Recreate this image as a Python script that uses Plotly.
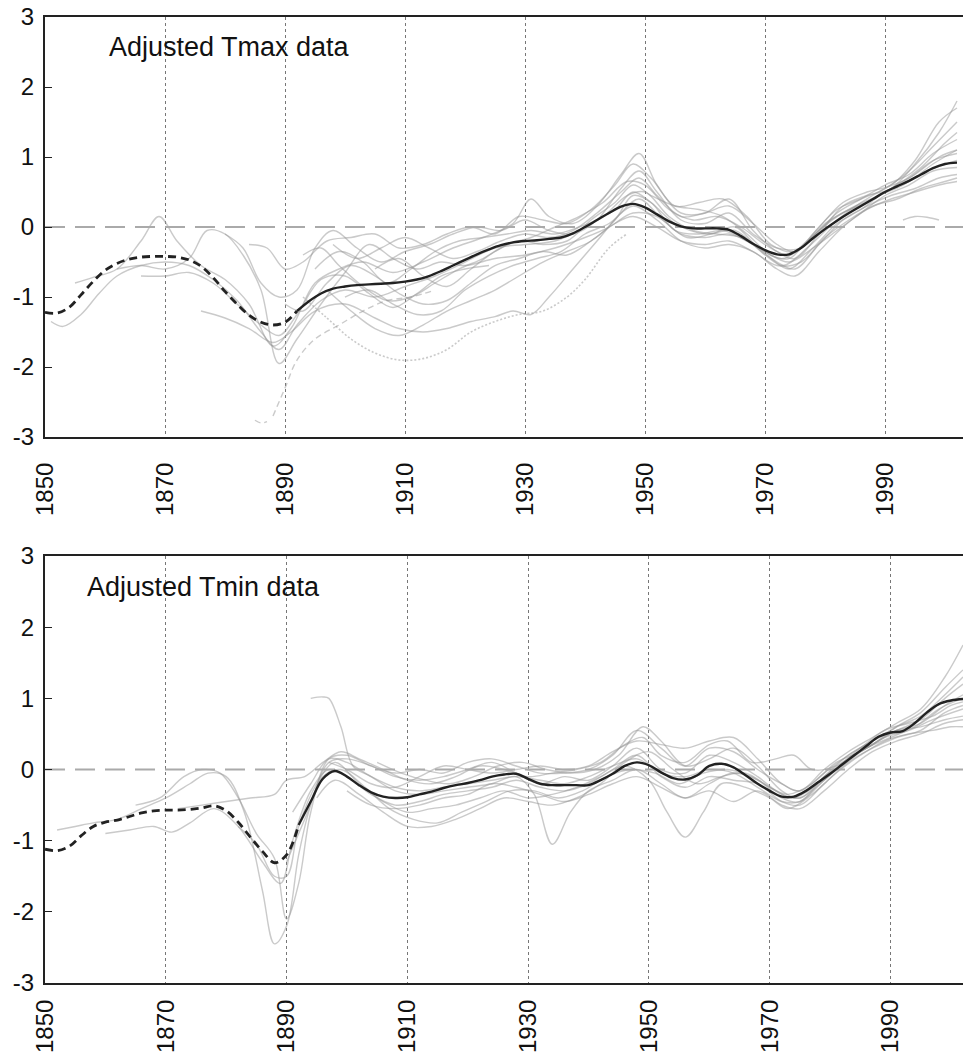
import plotly.graph_objects as go

FONT = "Liberation Sans, Arial, sans-serif"

# Regional mean series (2-year steps), dashed before the split year
YEARS = list(range(1850, 2003, 2))
TMAX_MEAN = [-1.22, -1.23, -1.15, -0.97, -0.78, -0.62, -0.52, -0.46, -0.43, -0.42,
             -0.42, -0.43, -0.47, -0.56, -0.72, -0.92, -1.10, -1.26, -1.36, -1.40,
             -1.36, -1.20, -1.06, -0.95, -0.88, -0.85, -0.83, -0.82, -0.81, -0.80,
             -0.78, -0.75, -0.70, -0.63, -0.55, -0.47, -0.39, -0.32, -0.26, -0.22,
             -0.20, -0.19, -0.17, -0.15, -0.09, 0.00, 0.10, 0.20, 0.29, 0.33,
             0.28, 0.18, 0.08, 0.01, -0.02, -0.02, -0.02, -0.04, -0.13, -0.24,
             -0.33, -0.39, -0.39, -0.30, -0.16, -0.03, 0.09, 0.20, 0.30, 0.40,
             0.50, 0.58, 0.66, 0.75, 0.84, 0.90, 0.92]
TMIN_MEAN = [-1.12, -1.14, -1.08, -0.93, -0.80, -0.74, -0.71, -0.66, -0.61, -0.58,
             -0.57, -0.57, -0.56, -0.54, -0.51, -0.58, -0.74, -0.95, -1.15, -1.31,
             -1.20, -0.78, -0.45, -0.13, -0.02, -0.10, -0.22, -0.32, -0.38, -0.40,
             -0.39, -0.35, -0.31, -0.26, -0.22, -0.19, -0.15, -0.10, -0.07, -0.06,
             -0.13, -0.20, -0.22, -0.22, -0.22, -0.22, -0.15, -0.06, 0.05, 0.10,
             0.06, -0.04, -0.12, -0.14, -0.08, 0.05, 0.08, 0.03, -0.08, -0.20,
             -0.30, -0.38, -0.38, -0.30, -0.18, -0.06, 0.07, 0.20, 0.33, 0.46,
             0.52, 0.54, 0.65, 0.80, 0.92, 0.97, 0.99]
TMAX_SPLIT = 1892
TMIN_SPLIT = 1892

# Individual station series (year knots, anomaly values)
TMAX_STATIONS = [
    ([1851, 1853, 1856, 1859, 1862, 1866, 1870, 1874, 1878, 1882, 1886, 1889, 1892, 1896, 1900, 1905,
      1910, 1915, 1920, 1925, 1930, 1935, 1940, 1945, 1948, 1951, 1955, 1960, 1965, 1970, 1973, 1977,
      1982, 1986, 1990, 1994, 1998, 2002],
     [-1.35, -1.42, -1.25, -0.95, -0.70, -0.55, -0.50, -0.55, -0.75, -1.05, -1.50, -1.75, -1.40, -1.05,
      -0.90, -1.00, -0.85, -0.70, -0.50, -0.30, -0.25, -0.20, 0.00, 0.25, 0.50, 0.35, 0.05, -0.10,
      -0.05, -0.40, -0.55, -0.30, 0.10, 0.35, 0.55, 0.70, 0.95, 1.05]),
    ([1855, 1858, 1862, 1866, 1869, 1872, 1876, 1880, 1884, 1888, 1891, 1895, 1899, 1903, 1908, 1913,
      1918, 1923, 1928, 1931, 1934, 1938, 1942, 1946, 1949, 1952, 1956, 1960, 1964, 1968, 1972, 1975,
      1979, 1983, 1987, 1991, 1995, 1999, 2002],
     [-0.80, -0.72, -0.60, -0.20, 0.15, -0.20, -0.55, -0.75, -1.10, -1.70, -1.45, -0.80, -0.60, -0.50,
      -0.65, -0.50, -0.30, -0.15, 0.05, 0.40, 0.15, 0.05, 0.30, 0.75, 1.05, 0.60, 0.20, 0.20, 0.40,
      -0.05, -0.35, -0.45, -0.10, 0.30, 0.45, 0.55, 0.90, 1.35, 1.80]),
    ([1862, 1866, 1870, 1874, 1877, 1880, 1883, 1886, 1889, 1892, 1896, 1900, 1904, 1908, 1912, 1916,
      1920, 1925, 1930, 1935, 1940, 1944, 1948, 1952, 1956, 1960, 1964, 1968, 1972, 1975, 1979, 1983,
      1987, 1991, 1995, 1999, 2002],
     [-0.60, -0.55, -0.60, -0.45, -0.05, -0.10, -0.40, -0.90, -1.95, -1.60, -1.10, -0.65, -0.25, -0.45,
      -0.60, -0.50, -0.55, -0.45, -0.40, -0.30, -0.15, 0.00, 0.20, 0.15, -0.10, -0.15, -0.10, -0.25,
      -0.50, -0.60, -0.25, 0.10, 0.30, 0.45, 0.55, 0.70, 0.75]),
    ([1876, 1880, 1884, 1888, 1891, 1895, 1900, 1905, 1909, 1913, 1917, 1921, 1925, 1928, 1931, 1934,
      1938, 1942, 1946, 1949, 1953, 1957, 1961, 1965, 1969, 1973, 1977, 1981, 1985, 1989, 1993, 1997,
      2002],
     [-1.20, -1.30, -1.45, -1.65, -1.50, -1.20, -1.10, -1.30, -1.45, -1.50, -1.45, -1.35, -1.28, -1.20,
      -1.25, -1.00, -0.60, -0.20, 0.20, 0.40, 0.10, -0.15, -0.10, 0.00, -0.30, -0.45, -0.20, 0.10,
      0.30, 0.45, 0.60, 0.80, 0.95]),
    ([1880, 1883, 1886, 1889, 1892, 1895, 1898, 1902, 1906, 1910, 1914, 1918, 1922, 1926, 1930, 1934,
      1938, 1942, 1946, 1949, 1952, 1956, 1960, 1964, 1968, 1972, 1976, 1980, 1984, 1988, 1992, 1996,
      2000, 2002],
     [-0.10, -0.30, -0.80, -1.00, -0.90, -0.30, -0.05, -0.30, -0.50, -0.35, -0.25, -0.10, 0.00, -0.05,
      0.10, -0.05, -0.10, 0.10, 0.55, 0.80, 0.50, 0.10, 0.05, 0.20, -0.10, -0.30, -0.30, 0.05, 0.25,
      0.40, 0.60, 0.85, 1.20, 1.35]),
    ([1893, 1896, 1899, 1903, 1907, 1911, 1915, 1919, 1923, 1927, 1931, 1935, 1939, 1943, 1947, 1950,
      1954, 1958, 1962, 1966, 1970, 1974, 1978, 1982, 1986, 1990, 1994, 1998, 2002],
     [-0.40, -0.30, -0.55, -0.85, -1.05, -1.00, -0.80, -0.60, -0.45, -0.25, -0.15, 0.00, 0.15, 0.35,
      0.65, 0.60, 0.25, 0.10, 0.15, 0.00, -0.25, -0.40, -0.15, 0.20, 0.40, 0.60, 0.75, 1.05, 1.25]),
    ([1890, 1893, 1897, 1901, 1905, 1909, 1913, 1917, 1921, 1925, 1929, 1933, 1937, 1941, 1945, 1948,
      1952, 1956, 1960, 1964, 1968, 1972, 1976, 1980, 1984, 1988, 1992, 1996, 2000, 2002],
     [-1.10, -1.20, -0.80, -0.55, -0.70, -0.95, -1.10, -1.05, -0.80, -0.55, -0.45, -0.35, -0.40, -0.20,
      0.05, 0.15, 0.00, -0.20, -0.25, -0.20, -0.35, -0.55, -0.50, -0.15, 0.10, 0.30, 0.40, 0.55, 0.65,
      0.70]),
    ([1895, 1899, 1903, 1907, 1911, 1915, 1919, 1923, 1927, 1931, 1935, 1939, 1943, 1947, 1950, 1954,
      1958, 1962, 1966, 1970, 1974, 1978, 1982, 1986, 1990, 1994, 1998, 2002],
     [-0.60, -0.35, -0.50, -0.80, -0.60, -0.35, -0.20, -0.15, -0.10, -0.05, -0.10, 0.00, 0.15, 0.45,
      0.50, 0.15, -0.05, -0.10, -0.15, -0.35, -0.50, -0.30, -0.05, 0.20, 0.45, 0.60, 0.80, 0.85]),
    ([1897, 1901, 1905, 1909, 1913, 1917, 1921, 1925, 1929, 1933, 1937, 1941, 1945, 1948, 1951, 1955,
      1959, 1963, 1967, 1971, 1974, 1978, 1982, 1986, 1990, 1994, 1998, 2002],
     [-0.90, -1.20, -1.45, -1.55, -1.40, -1.20, -1.05, -0.90, -0.70, -0.50, -0.35, -0.20, 0.10, 0.45,
      0.35, -0.05, -0.10, -0.05, -0.20, -0.45, -0.60, -0.30, 0.05, 0.25, 0.50, 0.65, 0.90, 1.10]),
    ([1898, 1902, 1906, 1910, 1914, 1918, 1922, 1926, 1930, 1934, 1938, 1942, 1946, 1949, 1952, 1956,
      1960, 1964, 1968, 1972, 1975, 1979, 1983, 1987, 1991, 1995, 1999, 2002],
     [-0.25, -0.45, -0.30, -0.15, -0.30, -0.45, -0.35, -0.20, -0.10, -0.15, -0.05, 0.20, 0.50, 0.70,
      0.45, 0.15, 0.20, 0.30, 0.05, -0.25, -0.35, -0.05, 0.20, 0.35, 0.55, 0.75, 1.00, 1.10]),
    ([1900, 1904, 1908, 1912, 1916, 1920, 1924, 1928, 1932, 1936, 1940, 1944, 1948, 1952, 1956, 1960,
      1964, 1968, 1972, 1975, 1979, 1983, 1987, 1991, 1995, 1999, 2002],
     [-1.00, -0.90, -1.10, -1.25, -1.20, -0.90, -0.70, -0.55, -0.45, -0.35, -0.10, 0.05, 0.30, 0.10,
      -0.20, -0.30, -0.25, -0.35, -0.60, -0.70, -0.35, 0.00, 0.25, 0.40, 0.50, 0.60, 0.65]),
    ([1905, 1909, 1913, 1917, 1921, 1925, 1929, 1933, 1937, 1941, 1945, 1948, 1951, 1955, 1959, 1963,
      1967, 1971, 1974, 1978, 1982, 1986, 1990, 1994, 1998, 2002],
     [-0.60, -0.45, -0.70, -0.85, -0.60, -0.35, -0.20, -0.25, -0.20, 0.10, 0.35, 0.60, 0.45, 0.30,
      0.25, 0.15, -0.10, -0.40, -0.45, -0.10, 0.25, 0.40, 0.55, 0.80, 1.15, 1.50]),
    ([1866, 1870, 1874, 1878, 1882, 1886, 1889, 1892, 1896, 1900, 1904, 1908, 1912, 1916, 1920, 1924],
     [-0.70, -0.70, -0.65, -0.80, -1.10, -1.40, -1.55, -1.25, -0.75, -0.70, -0.95, -1.15, -0.95, -0.70,
      -0.60, -0.55]),
    ([1884, 1887, 1890, 1893, 1897, 1901, 1905, 1909, 1913, 1917, 1921, 1925, 1929, 1933, 1937, 1941,
      1945, 1948, 1951, 1955, 1959, 1963, 1967, 1971, 1975, 1979, 1983, 1987, 1991, 1995, 1999, 2002],
     [-0.25, -0.30, -0.60, -0.50, -0.20, -0.15, -0.10, -0.30, -0.25, -0.10, 0.00, -0.10, 0.15, 0.10,
      0.05, 0.25, 0.60, 0.90, 0.70, 0.30, 0.35, 0.40, 0.15, -0.25, -0.35, 0.00, 0.35, 0.50, 0.60, 0.95,
      1.50, 1.70]),
    ([1993, 1995, 1997, 1999],
     [0.10, 0.15, 0.14, 0.10]),
]
TMAX_DASHED_STATIONS = [
    ([1885, 1886, 1887],
     [-2.76, -2.80, -2.78]),
    ([1888, 1890, 1892, 1895, 1899, 1903, 1907, 1911, 1915],
     [-2.70, -2.30, -1.90, -1.60, -1.40, -1.20, -1.05, -1.00, -0.90]),
]
TMAX_DOTTED_STATIONS = [
    ([1893, 1897, 1901, 1905, 1909, 1913, 1917, 1921, 1925, 1929, 1933, 1937, 1940, 1944, 1947],
     [-1.00, -1.30, -1.60, -1.80, -1.90, -1.88, -1.75, -1.50, -1.35, -1.25, -1.20, -1.00, -0.75, -0.30,
      -0.10]),
]

TMIN_STATIONS = [
    ([1852, 1855, 1858, 1862, 1866, 1870, 1874, 1877, 1880, 1883, 1886, 1888, 1890, 1892, 1894, 1897,
      1900, 1904, 1908, 1912, 1916, 1920, 1924, 1928, 1932, 1936, 1940, 1944, 1948, 1952, 1956, 1960,
      1964, 1968, 1972, 1975, 1979, 1983, 1987, 1991, 1995, 1999, 2002],
     [-0.85, -0.80, -0.75, -0.70, -0.55, -0.40, -0.20, -0.05, -0.10, -0.60, -1.70, -2.45, -2.20, -1.20,
      -0.50, 0.10, 0.15, 0.05, -0.10, -0.15, -0.10, 0.00, 0.10, -0.05, -0.20, -0.10, -0.15, 0.05, 0.30,
      0.00, -0.05, 0.20, 0.10, -0.10, -0.35, -0.40, -0.15, 0.15, 0.35, 0.55, 0.70, 1.00, 1.20]),
    ([1860, 1864, 1868, 1871, 1874, 1878, 1882, 1886, 1889, 1891, 1894, 1897, 1900, 1904, 1908, 1912,
      1916, 1920, 1924, 1928, 1932, 1936, 1940, 1944, 1948, 1952, 1956, 1960, 1964, 1968, 1972, 1975,
      1979, 1983, 1987, 1991, 1995, 1999, 2002],
     [-0.90, -0.85, -0.80, -0.88, -0.75, -0.55, -0.80, -1.30, -1.60, -1.00, -0.30, 0.00, -0.10, -0.35,
      -0.50, -0.45, -0.35, -0.30, -0.25, -0.15, -0.25, -0.30, -0.20, 0.00, 0.20, -0.10, -0.25, -0.10,
      -0.15, -0.20, -0.45, -0.50, -0.20, 0.10, 0.30, 0.45, 0.55, 0.80, 0.90]),
    ([1865, 1869, 1873, 1876, 1879, 1882, 1885, 1888, 1890, 1892, 1894, 1897, 1900, 1904, 1908, 1912,
      1916, 1920, 1924, 1928, 1932, 1936, 1940, 1944, 1948, 1952, 1956, 1960, 1964, 1968, 1972, 1975,
      1979, 1983, 1987, 1991, 1995, 1999, 2002],
     [-0.50, -0.40, -0.10, 0.00, -0.05, -0.40, -0.90, -1.25, -2.10, -1.60, -0.60, 0.15, 0.20, 0.05,
      -0.05, 0.00, -0.05, 0.10, 0.15, 0.05, -0.05, -0.05, 0.00, 0.20, 0.55, 0.30, 0.05, 0.30, 0.25,
      0.00, -0.20, -0.30, 0.00, 0.25, 0.45, 0.65, 0.85, 1.30, 1.75]),
    ([1872, 1876, 1880, 1884, 1888, 1890, 1893, 1896, 1899, 1902, 1906, 1910, 1914, 1918, 1922, 1926,
      1930, 1934, 1938, 1942, 1946, 1949, 1952, 1956, 1960, 1963, 1967, 1971, 1974, 1977, 1981, 1985,
      1989, 1993, 1997, 2000, 2002],
     [-0.55, -0.50, -0.45, -0.40, -0.35, -0.15, -0.10, 0.10, 0.25, 0.15, 0.00, -0.15, -0.20, -0.10,
      0.05, 0.00, -0.10, -0.05, 0.00, 0.10, 0.35, 0.45, 0.20, 0.10, 0.35, 0.40, 0.10, 0.15, 0.20, 0.00,
      0.05, 0.30, 0.55, 0.65, 0.75, 0.90, 0.95]),
    ([1894, 1896, 1897, 1899, 1901, 1904, 1908, 1912, 1916, 1920, 1924, 1928, 1931, 1934, 1937, 1940,
      1944, 1948, 1952, 1956, 1960, 1964, 1968, 1972, 1975, 1979, 1983, 1987, 1991, 1995, 1999, 2002],
     [1.00, 1.02, 1.00, 0.60, 0.05, -0.10, -0.30, -0.35, -0.30, -0.25, -0.20, -0.10, -0.35, -1.05,
      -0.60, -0.30, -0.15, 0.00, -0.20, -0.40, -0.20, -0.05, -0.15, -0.40, -0.45, -0.10, 0.20, 0.40,
      0.55, 0.60, 0.70, 0.75]),
    ([1882, 1885, 1888, 1890, 1892, 1895, 1898, 1902, 1906, 1910, 1914, 1918, 1922, 1926, 1930, 1934,
      1938, 1942, 1946, 1950, 1953, 1956, 1959, 1962, 1966, 1970, 1973, 1977, 1981, 1985, 1989, 1993,
      1997, 2000, 2002],
     [-0.80, -1.05, -1.50, -1.50, -0.80, -0.20, 0.10, -0.20, -0.45, -0.60, -0.55, -0.50, -0.40, -0.30,
      -0.40, -0.35, -0.25, -0.10, 0.05, -0.15, -0.60, -0.95, -0.60, -0.20, -0.25, -0.40, -0.55, -0.35,
      -0.05, 0.20, 0.40, 0.50, 0.55, 0.60, 0.60]),
    ([1890, 1893, 1896, 1899, 1903, 1907, 1911, 1915, 1919, 1923, 1927, 1931, 1935, 1939, 1943, 1947,
      1951, 1955, 1959, 1963, 1967, 1971, 1974, 1978, 1982, 1986, 1990, 1994, 1998, 2002],
     [-1.30, -0.70, -0.10, 0.00, -0.25, -0.55, -0.70, -0.75, -0.60, -0.45, -0.30, -0.30, -0.40, -0.30,
      -0.10, 0.00, -0.05, -0.20, -0.05, 0.00, -0.10, -0.30, -0.40, -0.20, 0.05, 0.30, 0.45, 0.60, 0.85,
      1.00]),
    ([1895, 1898, 1902, 1906, 1910, 1914, 1918, 1922, 1926, 1930, 1934, 1938, 1942, 1946, 1950, 1954,
      1958, 1962, 1966, 1970, 1973, 1977, 1981, 1985, 1989, 1993, 1997, 2002],
     [-0.40, -0.15, -0.35, -0.60, -0.80, -0.80, -0.70, -0.55, -0.40, -0.45, -0.50, -0.40, -0.20, 0.10,
      0.25, 0.00, -0.20, -0.10, -0.05, -0.25, -0.35, -0.20, 0.10, 0.25, 0.45, 0.55, 0.70, 0.85]),
    ([1897, 1900, 1904, 1908, 1912, 1916, 1920, 1924, 1928, 1932, 1936, 1940, 1944, 1948, 1952, 1956,
      1960, 1964, 1968, 1972, 1975, 1979, 1983, 1987, 1991, 1995, 1999, 2002],
     [0.10, 0.00, -0.20, -0.25, -0.10, 0.05, 0.00, -0.05, 0.00, 0.05, 0.00, 0.05, 0.25, 0.40, 0.35,
      0.30, 0.40, 0.45, 0.15, -0.20, -0.30, -0.05, 0.20, 0.40, 0.60, 0.75, 1.05, 1.30]),
    ([1900, 1904, 1908, 1912, 1916, 1920, 1924, 1928, 1932, 1936, 1940, 1944, 1948, 1952, 1956, 1960,
      1964, 1968, 1972, 1975, 1979, 1983, 1987, 1991, 1995, 1999, 2002],
     [-0.30, -0.50, -0.55, -0.50, -0.40, -0.35, -0.20, -0.25, -0.35, -0.45, -0.35, -0.20, -0.10, -0.25,
      -0.40, -0.30, -0.45, -0.30, -0.50, -0.55, -0.30, 0.00, 0.25, 0.40, 0.50, 0.65, 0.70]),
    ([1905, 1909, 1913, 1917, 1921, 1925, 1929, 1933, 1937, 1941, 1945, 1949, 1952, 1956, 1960, 1964,
      1968, 1972, 1975, 1979, 1983, 1987, 1991, 1995, 1999, 2002],
     [0.10, -0.05, -0.15, -0.20, -0.10, 0.05, 0.10, 0.00, -0.05, 0.00, 0.20, 0.60, 0.40, 0.05, 0.15,
      0.30, 0.05, -0.30, -0.40, -0.10, 0.15, 0.35, 0.60, 0.80, 1.15, 1.40]),
    ([1891, 1894, 1897, 1900, 1904, 1908, 1912, 1916, 1920, 1924, 1928, 1932, 1936, 1940, 1944, 1948,
      1952, 1956, 1960, 1964, 1968, 1972, 1975, 1979, 1983, 1987, 1991, 1995, 1999, 2002],
     [-0.60, -0.20, 0.15, 0.10, -0.10, -0.25, -0.30, -0.25, -0.20, -0.15, -0.10, -0.15, -0.20, -0.10,
      0.05, 0.15, -0.05, -0.10, 0.00, -0.05, -0.25, -0.45, -0.45, -0.15, 0.15, 0.35, 0.55, 0.65, 0.90,
      1.05]),
]

X_TICKS = [1850, 1870, 1890, 1910, 1930, 1950, 1970, 1990]
Y_TICKS = [-3, -2, -1, 0, 1, 2, 3]
Y_TICK_TEXT = ["-3", "-2", "-1", "0", "1", "2", "3"]

GRAY = "rgba(150,150,150,0.5)"

fig = go.Figure()


def add_panel(xa, ya, stations, dashed, dotted, mean, split, label, label_x):
    for yrs, vals in stations:
        fig.add_trace(go.Scatter(x=yrs, y=vals, xaxis=xa, yaxis=ya, mode="lines",
                                 line=dict(color=GRAY, width=1.4, shape="spline"),
                                 hoverinfo="skip"))
    for yrs, vals in dashed:
        fig.add_trace(go.Scatter(x=yrs, y=vals, xaxis=xa, yaxis=ya, mode="lines",
                                 line=dict(color=GRAY, width=1.4, shape="spline", dash="6px,4px"),
                                 hoverinfo="skip"))
    for yrs, vals in dotted:
        fig.add_trace(go.Scatter(x=yrs, y=vals, xaxis=xa, yaxis=ya, mode="lines",
                                 line=dict(color=GRAY, width=1.6, shape="spline", dash="2px,2px"),
                                 hoverinfo="skip"))
    # zero reference line
    fig.add_trace(go.Scatter(x=[1850, 2005], y=[0, 0], xaxis=xa, yaxis=ya, mode="lines",
                             line=dict(color="#aaaaaa", width=2, dash="20px,10px"),
                             hoverinfo="skip"))
    early = [(x, v) for x, v in zip(YEARS, mean) if x <= split]
    late = [(x, v) for x, v in zip(YEARS, mean) if x >= split]
    fig.add_trace(go.Scatter(x=[p[0] for p in early], y=[p[1] for p in early], xaxis=xa, yaxis=ya,
                             mode="lines", line=dict(color="#222222", width=2.8, shape="spline",
                                                     dash="8px,5px")))
    fig.add_trace(go.Scatter(x=[p[0] for p in late], y=[p[1] for p in late], xaxis=xa, yaxis=ya,
                             mode="lines", line=dict(color="#222222", width=2.4, shape="spline")))
    fig.add_annotation(x=label_x, y=2.57, xref=xa, yref=ya, text=label, showarrow=False,
                       xanchor="left", yanchor="middle", font=dict(size=27, color="#111111"))


add_panel("x", "y", TMAX_STATIONS, TMAX_DASHED_STATIONS, TMAX_DOTTED_STATIONS,
          TMAX_MEAN, TMAX_SPLIT, "Adjusted Tmax data", 1860.3)
add_panel("x2", "y2", TMIN_STATIONS, [], [],
          TMIN_MEAN, TMIN_SPLIT, "Adjusted Tmin data", 1856.6)

xaxis_style = dict(tickvals=X_TICKS, tickangle=-90, showgrid=True, griddash="dot",
                   gridcolor="#777777", gridwidth=1, showline=True, linecolor="#222222",
                   linewidth=2, mirror=True, ticks="", zeroline=False, automargin=False,
                   tickfont=dict(size=24, color="#111111"))
yaxis_style = dict(range=[-3, 3], tickvals=Y_TICKS, ticktext=Y_TICK_TEXT, ticks="inside",
                   ticklen=7, tickcolor="#222222", showline=True, linecolor="#222222",
                   linewidth=2, showgrid=False, zeroline=False, automargin=False,
                   ticklabelstandoff=4, tickfont=dict(size=24, color="#111111"))

fig.update_layout(
    width=963, height=1052,
    margin=dict(l=45, r=0, t=17, b=69),
    paper_bgcolor="white", plot_bgcolor="white",
    font=dict(family=FONT, color="#111111"),
    showlegend=False,
    xaxis=dict(domain=[0, 1], anchor="y", range=[1850, 2003], ticklabelstandoff=14,
               **xaxis_style),
    yaxis=dict(domain=[0.5652, 1], anchor="x", **yaxis_style),
    xaxis2=dict(domain=[0, 1], anchor="y2", range=[1850, 2002], ticklabelstandoff=5,
                **xaxis_style),
    yaxis2=dict(domain=[0, 0.442], anchor="x2", **yaxis_style),
)

# drop the default page margin so the figure sits flush in the window
fig.write_html("out.html", config={"displayModeBar": False},
               post_script="document.body.style.margin = '0';")
